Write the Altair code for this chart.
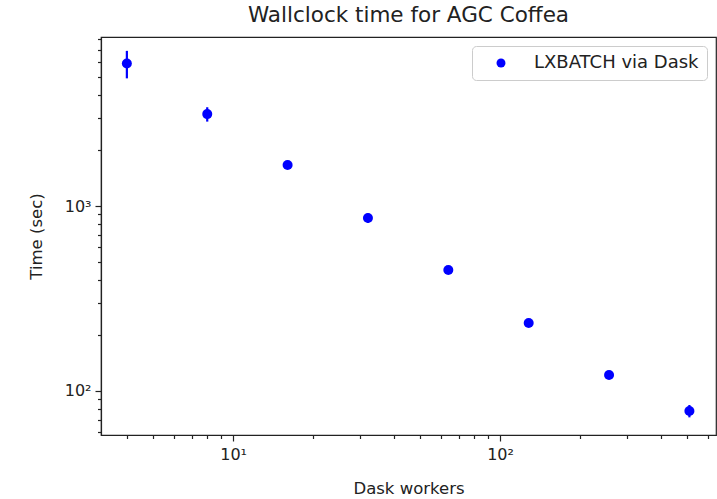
import altair as alt
import pandas as pd

# Benchmark results: wallclock time vs. number of Dask workers
workers = [4, 8, 16, 32, 64, 128, 256, 512]
times = [5900, 3140, 1667, 861, 451, 233, 122, 78]
errors = [1000, 280, 25, 50, 10, 5, 3, 6]
series = "LXBATCH via Dask"

df = pd.DataFrame({"workers": workers, "time": times, "err": errors})
df["lo"] = df["time"] - df["err"]
df["hi"] = df["time"] + df["err"]
df["series"] = series

x_ticks = [4, 5, 6, 7, 8, 9, 10, 20, 30, 40, 50, 60, 70, 80, 90, 100, 200, 300, 400, 500, 600]
y_ticks = [60, 70, 80, 90, 100, 200, 300, 400, 500, 600, 700, 800, 900, 1000,
           2000, 3000, 4000, 5000, 6000, 7000, 8000]

font = "DejaVu Sans"

x_label_expr = "datum.value == 10 ? '10\u00b9' : datum.value == 100 ? '10\u00b2' : ''"
y_label_expr = "datum.value == 100 ? '10\u00b2' : datum.value == 1000 ? '10\u00b3' : ''"

major_x = "datum.value == 10 || datum.value == 100"
major_y = "datum.value == 100 || datum.value == 1000"

x_enc = alt.X(
    "workers:Q",
    scale=alt.Scale(type="log", domain=[3.2, 644], nice=False),
    axis=alt.Axis(
        title="Dask workers",
        values=x_ticks,
        labelExpr=x_label_expr,
        tickSize={"condition": {"test": major_x, "value": 6}, "value": 3.5},
        grid=False,
        labelPadding=5,
        titlePadding=18,
    ),
)
y_scale = alt.Scale(type="log", domain=[57.8, 8200], nice=False)
y_axis = alt.Axis(
    title="Time (sec)",
    values=y_ticks,
    labelExpr=y_label_expr,
    tickSize={"condition": {"test": major_y, "value": 6}, "value": 3.5},
    grid=False,
    labelPadding=4,
    titlePadding=20,
)

bars = alt.Chart(df).mark_rule(color="blue", strokeWidth=2.2).encode(
    x=x_enc,
    y=alt.Y("lo:Q", scale=y_scale, axis=y_axis),
    y2="hi:Q",
)

points = alt.Chart(df).mark_circle(size=100, opacity=1).encode(
    x=x_enc,
    y=alt.Y("time:Q", scale=y_scale, axis=y_axis),
    color=alt.Color(
        "series:N",
        scale=alt.Scale(domain=[series], range=["blue"]),
        legend=alt.Legend(
            title=None,
            orient="top-right",
            offset=9,
            padding=8,
            symbolSize=80,
            symbolOffset=12,
            labelOffset=24,
            labelFontSize=18,
            labelLimit=400,
            labelFont=font,
            labelColor="#222222",
            strokeColor="#cccccc",
            fillColor="white",
            cornerRadius=4,
        ),
    ),
)

chart = (
    alt.layer(bars, points)
    .properties(
        width=615,
        height=398,
        title=alt.TitleParams(
            "Wallclock time for AGC Coffea",
            font=font,
            fontSize=21.5,
            fontWeight="normal",
            color="#222222",
            offset=11,
            anchor="middle",
        ),
        autosize=alt.AutoSizeParams(type="none"),
        padding={"left": 101, "top": 37, "right": 1, "bottom": 64},
    )
    .configure_view(stroke="#222222", strokeWidth=1.2)
    .configure_axis(
        domainColor="#222222",
        domainWidth=1.2,
        tickColor="#222222",
        tickWidth=1.2,
        labelFont=font,
        labelFontSize=16,
        labelColor="#222222",
        titleFont=font,
        titleFontSize=16.5,
        titleFontWeight="normal",
        titleColor="#222222",
    )
)

chart.save("out.html", embed_options={"renderer": "svg", "actions": False})
